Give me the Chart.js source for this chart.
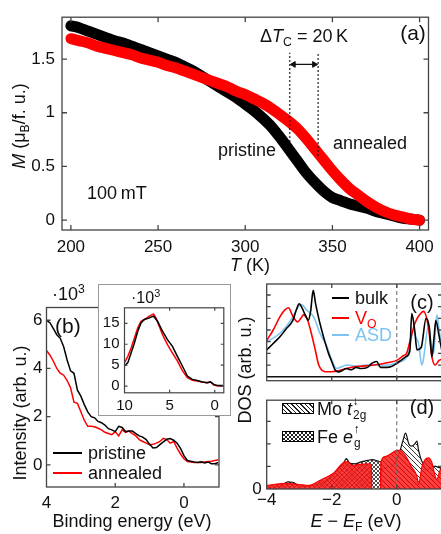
<!DOCTYPE html>
<html><head><meta charset="utf-8">
<script src="https://cdn.jsdelivr.net/npm/chart.js@4.4.1/dist/chart.umd.min.js"></script>
<style>
html,body{margin:0;padding:0;background:#fff;overflow:hidden;}
#wrap{position:relative;width:441px;height:534px;overflow:hidden;font-family:"Liberation Sans",Arial,sans-serif;color:#111;}
canvas{position:absolute;}
.t{position:absolute;white-space:nowrap;font-size:18px;line-height:1;transform:translate(0,-50%);}
.c{transform:translate(-50%,-50%);}
.r{transform:translate(-50%,-50%) rotate(-90deg);}
sub{font-size:0.68em;vertical-align:-0.3em;line-height:0;}
sup{font-size:0.68em;vertical-align:0.55em;line-height:0;}
.leg{position:absolute;height:0;border-top:2px solid #000;}
.box{position:absolute;border:1.2px solid #000;box-sizing:border-box;}
#inset{position:absolute;left:98px;top:284px;width:131px;height:130px;border:1.5px solid #999;background:#fff;}
.ss{position:relative;display:inline-block;width:1.2em;height:1em;vertical-align:top;}
.ss span{position:absolute;left:1px;font-size:0.66em;line-height:1;}
.ss .up{top:-0.35em;}
.ss .dn{top:0.85em;}
</style></head>
<body>
<div id="wrap">
  <canvas id="ca" width="441" height="275" style="left:0;top:0"></canvas>
  <canvas id="cb" width="235" height="254" style="left:0;top:280px"></canvas>
  <div id="inset"><canvas id="ci" width="131" height="130" style="left:0;top:0"></canvas></div>
  <canvas id="cc" width="215" height="105" style="left:232px;top:280px"></canvas>
  <canvas id="cd" width="215" height="149" style="left:232px;top:385px"></canvas>

  <!-- panel a texts -->
  <div class="t c" style="left:413px;top:32px;font-size:21px">(a)</div>
  <div class="t" style="left:260px;top:36px">Δ<i>T</i><sub>C</sub> = 20&#8201;K</div>
  <div class="t" style="left:218px;top:150px">pristine</div>
  <div class="t" style="left:333px;top:143px">annealed</div>
  <div class="t" style="left:87px;top:193px">100&#8201;mT</div>
  <div class="t r" style="left:19px;top:126px"><i>M</i> (μ<sub>B</sub>/f. u.)</div>
  <div class="t c" style="left:250px;top:265px"><i>T</i> (K)</div>

  <!-- panel b texts -->
  <div class="t" style="left:52px;top:294px">·10<sup>3</sup></div>
  <div class="t" style="left:55px;top:325px;font-size:21px">(b)</div>
  <div class="leg" style="left:53px;top:452px;width:29px;border-color:#000"></div>
  <div class="t" style="left:88px;top:453px">pristine</div>
  <div class="leg" style="left:53px;top:472px;width:29px;border-color:#f00"></div>
  <div class="t" style="left:88px;top:473px">annealed</div>
  <div class="t r" style="left:20px;top:413px">Intensity (arb. u.)</div>
  <div class="t c" style="left:132px;top:521px">Binding energy (eV)</div>
  <div class="t" style="left:131px;top:298px;font-size:16px">·10<sup>3</sup></div>

  <!-- panel c/d texts -->
  <div class="leg" style="left:332px;top:297px;width:17px;border-color:#000"></div>
  <div class="t" style="left:355px;top:298px">bulk</div>
  <div class="leg" style="left:332px;top:317px;width:17px;border-color:#f00"></div>
  <div class="t" style="left:355px;top:318px;color:#f00">V<sub>O</sub></div>
  <div class="leg" style="left:332px;top:334px;width:17px;border-color:#7cc4f2"></div>
  <div class="t" style="left:355px;top:335px;color:#7cc4f2">ASD</div>
  <div class="t c" style="left:422px;top:302px;font-size:20px">(c)</div>
  <div class="t c" style="left:422px;top:407px;font-size:20px">(d)</div>
  <div class="t r" style="left:245px;top:370px">DOS (arb. u.)</div>
  <div class="t c" style="left:356px;top:521px"><i>E</i> − <i>E</i><sub>F</sub> (eV)</div>
  <div class="box" style="left:282px;top:403px;width:32px;height:11px;background:repeating-linear-gradient(45deg,#fff 0 2.2px,#222 2.2px 3.2px)"></div>
  <div class="t" style="left:317px;top:409px">Mo <i>t</i><span class="ss"><span class="up">↓</span><span class="dn">2g</span></span></div>
  <div class="box" style="left:282px;top:431px;width:32px;height:11px;background:repeating-linear-gradient(45deg,transparent 0 2px,#222 2px 2.8px),repeating-linear-gradient(-45deg,transparent 0 2px,#222 2px 2.8px),#fff"></div>
  <div class="t" style="left:317px;top:437px">Fe <i>e</i><span class="ss"><span class="up">↑</span><span class="dn">g</span></span></div>
</div>
<script>
const FONT = '"Liberation Sans", Arial, sans-serif';

// ---------- panel (a): magnetization ----------
const T_K = [200,205,210,215,220,225,230,235,240,245,250,255,260,265,270,275,280,285,290,295,300,305,310,315,320,325,330,335,340,345,350,355,360,365,370,375,380,385,390,395,400];
const M_PRISTINE = [1.81,1.79,1.76,1.73,1.70,1.67,1.65,1.62,1.59,1.56,1.53,1.50,1.47,1.43,1.39,1.34,1.29,1.24,1.19,1.14,1.08,1.02,0.95,0.87,0.77,0.66,0.55,0.44,0.35,0.27,0.21,0.18,0.15,0.13,0.11,0.08,0.06,0.04,0.02,0.01,0.0];
const M_ANNEALED = [1.69,1.67,1.65,1.62,1.60,1.58,1.56,1.54,1.51,1.49,1.47,1.44,1.42,1.39,1.36,1.33,1.30,1.27,1.24,1.20,1.17,1.13,1.09,1.04,0.98,0.92,0.85,0.76,0.66,0.56,0.46,0.37,0.29,0.23,0.17,0.12,0.08,0.05,0.03,0.01,0.0];
const A_X_TICKS = [200,250,300,350,400];
const A_Y_TICKS = [0,0.5,1,1.5];
const TC_PRISTINE = 325.5, TC_ANNEALED = 341.8;
const TC_LINE_TOP = 1.56, TC_P_BOTTOM = 0.73, TC_A_BOTTOM = 0.6, TC_ARROW_Y = 1.45;

// ---------- panel (b): photoemission ----------
const B_E = [4.0,3.9,3.8,3.7,3.6,3.5,3.4,3.3,3.2,3.1,3.0,2.9,2.8,2.7,2.6,2.5,2.4,2.3,2.2,2.1,2.0,1.9,1.8,1.7,1.6,1.5,1.4,1.3,1.2,1.1,1.0,0.9,0.8,0.7,0.6,0.5,0.4,0.3,0.2,0.1,0.0,-0.1,-0.2,-0.3,-0.4,-0.5,-0.6,-0.7,-0.8,-0.9,-1.0];
const B_PRISTINE = [6.0,5.9,5.65,5.4,5.25,4.9,4.35,3.9,3.8,3.1,2.85,2.5,2.2,2.0,1.95,1.8,1.75,1.65,1.5,1.45,1.38,1.6,1.55,1.38,1.4,1.4,1.3,1.2,1.15,1.05,0.85,0.7,0.72,0.84,0.95,1.06,1.09,1.02,0.9,0.68,0.38,0.18,0.15,0.12,0.1,0.13,0.08,0.12,0.05,0.05,0.1];
const B_ANNEALED = [4.75,4.55,4.3,4.0,3.8,3.72,3.5,3.2,2.6,2.55,2.2,1.85,1.6,1.6,1.58,1.52,1.45,1.35,1.3,1.25,1.38,1.2,1.45,1.35,1.4,1.3,1.2,1.05,0.97,0.9,0.83,0.85,0.9,0.97,1.1,1.05,0.9,0.97,0.69,0.45,0.25,0.14,0.12,0.1,0.1,0.1,0.12,0.14,0.15,0.18,0.21];
const B_X_TICKS = [4,2,0];
const B_Y_TICKS = [0,2,4,6];

// inset
const I_E_PRISTINE = [10,9.63,9.27,8.9,8.53,8.17,7.8,7.25,6.78,6.34,5.79,5.24,4.69,4.14,3.59,3.04,2.49,1.94,1.39,0.84,0.48,0.11,-0.26,-0.9];
const I_PRISTINE   = [4.8,5.6,7.9,10.3,13.1,15.1,15.9,16.3,16.7,15.5,13.1,11.1,9.5,7.1,4.8,2.4,1.6,1.35,1.0,0.8,1.0,0.4,0.15,0.15];
const I_E_ANNEALED = [10,9.63,9.27,8.9,8.53,8.17,7.8,7.25,6.78,6.52,6.15,5.79,5.24,4.69,4.14,3.59,3.04,2.49,1.94,1.39,0.84,0.48,0.11,-0.4,-0.9];
const I_ANNEALED   = [5.6,7.1,9.1,11.5,13.9,15.5,15.9,16.7,17.2,16.3,14.3,12.3,9.9,7.9,6.0,3.7,2.0,1.4,1.2,1.0,0.8,1.0,0.25,0,0];
const I_X_TICKS = [10,5,0];
const I_Y_TICKS = [0,5,10,15];

// ---------- panel (c): total DOS ----------
const C_E_BULK = [-4.0,-3.8,-3.6,-3.4,-3.2,-3.08,-3.0,-2.9,-2.8,-2.72,-2.65,-2.57,-2.5,-2.4,-2.3,-2.2,-2.1,-2.0,-1.9,-1.8,-1.7,-1.55,-1.4,-1.25,-1.1,-0.9,-0.77,-0.62,-0.5,-0.3,-0.15,0.0,0.15,0.3,0.4,0.46,0.55,0.62,0.75,0.9,1.0,1.08,1.15,1.2,1.3,1.4];
const C_BULK   = [2.3,2.85,3.4,4.1,4.8,5.8,6.25,5.8,5.2,4.85,5.6,7.4,6.3,5.0,3.9,2.9,2.0,1.3,0.6,0.4,0.5,0.7,0.6,0.8,0.7,0.8,1.15,1.3,0.8,0.8,0.9,1.15,1.45,1.75,2.2,5.4,4.0,2.3,2.5,5.0,4.2,1.7,3.5,4.8,3.5,2.0];
const C_E_VO = [-4.0,-3.8,-3.6,-3.45,-3.33,-3.2,-3.05,-2.95,-2.87,-2.75,-2.6,-2.5,-2.4,-2.3,-2.2,-2.0,-1.8,-1.55,-1.3,-1.1,-0.7,-0.3,0.0,0.2,0.3,0.41,0.56,0.7,0.82,0.97,1.08,1.18,1.3,1.4];
const C_VO   = [3.1,4.0,5.1,5.7,5.9,5.2,4.7,5.0,5.3,4.9,3.4,2.2,1.0,0.55,0.43,0.43,0.5,0.7,0.85,0.9,1.0,1.2,1.4,1.8,2.0,3.1,4.6,5.3,5.6,4.3,1.7,1.0,1.4,1.5];
const C_E_ASD = [-4.0,-3.8,-3.6,-3.4,-3.2,-3.03,-2.92,-2.77,-2.56,-2.36,-2.15,-2.0,-1.85,-1.7,-1.54,-1.23,-0.92,-0.62,-0.31,0.0,0.31,0.4,0.51,0.6,0.67,0.77,0.82,0.97,1.05,1.13,1.23,1.3,1.4];
const C_ASD   = [3.0,3.3,3.7,4.3,5.1,6.0,6.15,5.7,5.15,3.7,2.6,1.45,0.7,0.85,1.0,0.9,1.0,1.0,1.0,1.2,1.7,2.5,4.0,3.3,2.86,1.0,1.5,4.3,3.0,2.0,5.3,4.0,2.5];
const CD_X_TICKS = [-4,-2,0];
const C_Y_TICKS = [1,2,3,4,5,6,7];
const REF_ENERGY = [0];

// ---------- panel (d): projected DOS ----------
const D_E_FE_BULK = [-4.0,-3.7,-3.5,-3.35,-3.2,-3.0,-2.8,-2.5,-2.2,-2.0,-1.8,-1.65,-1.55,-1.45,-1.3,-1.1,-0.9,-0.75,-0.6,-0.5,-0.47,-0.46];
const D_FE_BULK   = [0.05,0.1,0.2,0.32,0.3,0.15,0.12,0.18,0.35,0.55,0.85,1.1,1.35,1.15,1.12,1.2,1.27,1.3,1.25,1.2,1.15,0];
const D_E_FE_VO = [-4.0,-3.7,-3.4,-3.0,-2.7,-2.4,-2.2,-1.95,-1.7,-1.6,-1.5,-1.38,-1.25,-1.05,-0.85,-0.78,-0.77];
const D_FE_VO   = [0.15,0.22,0.25,0.2,0.16,0.35,0.5,0.7,1.1,1.2,1.2,1.04,1.07,1.1,1.12,1.05,0];
const D_E_MO_BULK = [-0.5,-0.49,-0.2,0.0,0.1,0.2,0.27,0.37,0.46,0.55,0.62,0.67,0.75,0.82,0.9,1.0,1.1,1.2,1.3,1.42];
const D_MO_BULK   = [0,0.8,1.0,1.3,1.7,2.2,2.48,2.0,1.9,2.0,2.12,1.71,1.3,1.1,0.8,0.9,1.0,1.0,0.95,0.9];
const D_E_MO_VO = [-0.5,-0.49,-0.36,0.0,0.1,0.25,0.46,0.62,0.67,0.77,0.87,0.97,1.08,1.18,1.23,1.33,1.42];
const D_MO_VO   = [0,1.2,1.44,1.71,1.72,1.51,0.97,0.57,0.2,0.97,1.3,1.38,1.17,0.57,0.43,0.83,0.95];
const D_Y_TICKS = [0,1,2,3];

// ---------- helpers ----------
const fmt = v => (v < 0 ? '\u2212' : '') + Math.abs(v);
const pts = (xs, ys) => xs.map((x, i) => ({x, y: ys[i]}));

function axis(o) {
  return {
    type: 'linear', min: o.min, max: o.max, reverse: !!o.reverse,
    grid: {display: false, drawTicks: false}, border: {display: false},
    ticks: {display: o.labels !== false, padding: o.pad || 4, color: '#111',
      font: {family: FONT, size: o.fs || 17}, maxRotation: 0, autoSkip: false,
      callback: o.cb || fmt},
    afterBuildTicks: s => { s.ticks = o.ticks.map(v => ({value: v})); },
    afterFit: s => { if (s.isHorizontal()) s.height = o.size; else s.width = o.size; }
  };
}

const framePlugin = {
  id: 'frame',
  afterDatasetsDraw(chart, args, opts) {
    const {ctx, chartArea: a} = chart;
    const xs = chart.scales.x, ys = chart.scales.y;
    ctx.save();
    if (opts.hline0) {
      const y = ys.getPixelForValue(0);
      ctx.strokeStyle = '#111'; ctx.lineWidth = 1.3;
      ctx.beginPath(); ctx.moveTo(a.left, y); ctx.lineTo(a.right, y); ctx.stroke();
    }
    if (opts.vlines) {
      ctx.strokeStyle = '#666'; ctx.lineWidth = 1; ctx.setLineDash([4, 3]);
      for (const v of opts.vlines) {
        const x = xs.getPixelForValue(v);
        ctx.beginPath(); ctx.moveTo(x, a.top); ctx.lineTo(x, a.bottom); ctx.stroke();
      }
      ctx.setLineDash([]);
    }
    ctx.strokeStyle = opts.color || '#444'; ctx.lineWidth = opts.width || 1.3;
    ctx.strokeRect(a.left, a.top, a.right - a.left, a.bottom - a.top);
    const L = opts.len || 4;
    ctx.beginPath();
    for (const t of xs.ticks) {
      const x = xs.getPixelForValue(t.value);
      if (x < a.left + 1 || x > a.right - 1) continue;
      ctx.moveTo(x, a.bottom); ctx.lineTo(x, a.bottom - L);
      ctx.moveTo(x, a.top); ctx.lineTo(x, a.top + L);
    }
    for (const t of ys.ticks) {
      const y = ys.getPixelForValue(t.value);
      if (y < a.top + 1 || y > a.bottom - 1) continue;
      ctx.moveTo(a.left, y); ctx.lineTo(a.left + L, y);
      ctx.moveTo(a.right, y); ctx.lineTo(a.right - L, y);
    }
    ctx.stroke();
    ctx.restore();
  }
};

function mk(id, datasets, x, y, padding, frame) {
  return new Chart(document.getElementById(id), {
    type: 'scatter',
    data: {datasets},
    options: {
      responsive: false, animation: false, events: [],
      layout: {padding},
      scales: {x, y},
      plugins: {legend: {display: false}, tooltip: {enabled: false}, frame},
      elements: {point: {radius: 0}}
    },
    plugins: [framePlugin]
  });
}

function tilePattern(ctx, bg, fg, cross, size, lw) {
  const c = document.createElement('canvas'); c.width = c.height = size;
  const g = c.getContext('2d');
  if (bg) { g.fillStyle = bg; g.fillRect(0, 0, size, size); }
  g.strokeStyle = fg; g.lineWidth = lw; g.beginPath();
  g.moveTo(-1, -1); g.lineTo(size + 1, size + 1);
  g.moveTo(-1, size - 1); g.lineTo(1, size + 1);
  g.moveTo(size - 1, -1); g.lineTo(size + 1, 1);
  if (cross) {
    g.moveTo(-1, size + 1); g.lineTo(size + 1, -1);
    g.moveTo(-1, 1); g.lineTo(1, -1);
    g.moveTo(size - 1, size + 1); g.lineTo(size + 1, size - 1);
  }
  g.stroke();
  return ctx.createPattern(c, 'repeat');
}

// ---------- chart (a) ----------
const lineA = (data, color, order) => ({data, showLine: true, borderColor: color, borderWidth: 11,
  borderCapStyle: 'round', borderJoinStyle: 'round', cubicInterpolationMode: 'monotone', pointRadius: 0, order});
mk('ca', [
  {data: [{x: TC_PRISTINE, y: TC_P_BOTTOM}, {x: TC_PRISTINE, y: TC_LINE_TOP}], showLine: true,
   borderColor: '#111', borderWidth: 1.5, borderDash: [1.5, 2.5], pointRadius: 0, order: 0},
  {data: [{x: TC_ANNEALED, y: TC_A_BOTTOM}, {x: TC_ANNEALED, y: TC_LINE_TOP}], showLine: true,
   borderColor: '#111', borderWidth: 1.5, borderDash: [1.5, 2.5], pointRadius: 0, order: 0},
  {data: [{x: TC_PRISTINE + 2.2, y: TC_ARROW_Y}, {x: TC_ANNEALED - 2.2, y: TC_ARROW_Y}], showLine: true,
   borderColor: '#111', borderWidth: 1.3, pointStyle: 'triangle', pointRadius: 3.3,
   pointRotation: [270, 90], pointBackgroundColor: '#111', pointBorderColor: '#111', pointBorderWidth: 1, order: 0},
  lineA(pts(T_K, M_ANNEALED), '#ff0000', 1),
  lineA(pts(T_K, M_PRISTINE), '#000000', 2)
],
  axis({min: 194.9, max: 405.1, ticks: A_X_TICKS, size: 45, pad: 7}),
  axis({min: -0.092, max: 1.89, ticks: A_Y_TICKS, size: 62, pad: 7}),
  {top: 14, right: 9, left: 0, bottom: 0}, {len: 5});

// ---------- chart (b) ----------
const thin = (data, color, order, w) => ({data, showLine: true, borderColor: color, borderWidth: w || 1.5,
  pointRadius: 0, tension: 0, order});
mk('cb', [
  thin(pts(B_E, B_PRISTINE), '#000', 0),
  thin(pts(B_E, B_ANNEALED), '#ff0000', 1)
],
  axis({min: -1.02, max: 4, reverse: true, ticks: B_X_TICKS, size: 47, pad: 6}),
  axis({min: -0.92, max: 6.53, ticks: B_Y_TICKS, size: 46.5, pad: 4}),
  {top: 27.5, right: 16, left: 0, bottom: 0}, {len: 4});

// ---------- inset ----------
mk('ci', [
  thin(pts(I_E_PRISTINE, I_PRISTINE), '#000', 0, 1.5),
  thin(pts(I_E_ANNEALED, I_ANNEALED), '#ff0000', 1, 1.5)
],
  axis({min: -1, max: 10, reverse: true, ticks: I_X_TICKS, size: 22.2, pad: 4, fs: 15}),
  axis({min: -1.6, max: 18.7, ticks: I_Y_TICKS, size: 25.5, pad: 5, fs: 15}),
  {top: 22.8, right: 6.2, left: 0, bottom: 0}, {len: 3, width: 1.2});

// ---------- chart (c) ----------
const lineC = (data, color, order) => ({data, showLine: true, borderColor: color, borderWidth: 1.6,
  pointRadius: 0, cubicInterpolationMode: 'monotone', order});
mk('cc', [
  lineC(pts(C_E_BULK, C_BULK), '#000', 0),
  lineC(pts(C_E_VO, C_VO), '#ff0000', 1),
  lineC(pts(C_E_ASD, C_ASD), '#7cc4f2', 2)
],
  axis({min: -4, max: 1.39, ticks: CD_X_TICKS, size: 4.3, labels: false}),
  axis({min: -0.34, max: 7.94, ticks: C_Y_TICKS, size: 34.7, labels: false}),
  {top: 4, right: 5, left: 0, bottom: 0}, {len: 4, hline0: true, vlines: REF_ENERGY});

// ---------- chart (d) ----------
const cvD = document.getElementById('cd');
const gD = cvD.getContext('2d');
const redDiag = tilePattern(gD, 'rgba(255,45,45,0.92)', 'rgba(170,0,0,0.75)', false, 5, 0.9);
const redCross = tilePattern(gD, 'rgba(255,45,45,0.92)', 'rgba(170,0,0,0.6)', true, 5, 0.8);
const blkDiag = tilePattern(gD, '#ffffff', '#222', false, 5, 0.9);
const blkCross = tilePattern(gD, '#ffffff', '#222', true, 4, 0.8);
const areaD = (data, bg, border, order) => ({data, showLine: true, fill: 'origin', backgroundColor: bg,
  borderColor: border, borderWidth: 1.2, pointRadius: 0, cubicInterpolationMode: 'monotone', order});
mk('cd', [
  areaD(pts(D_E_MO_VO, D_MO_VO), redDiag, '#ff0000', 0),
  areaD(pts(D_E_FE_VO, D_FE_VO), redCross, '#ff0000', 1),
  areaD(pts(D_E_MO_BULK, D_MO_BULK), blkDiag, '#111', 2),
  areaD(pts(D_E_FE_BULK, D_FE_BULK), blkCross, '#111', 3)
],
  axis({min: -4, max: 1.39, ticks: CD_X_TICKS, size: 45, pad: 1}),
  axis({min: 0, max: 3.94, ticks: D_Y_TICKS, size: 34.7, pad: 5, cb: v => v === 0 ? '0' : ''}),
  {top: 6.7, right: 5, left: 0, bottom: 0}, {len: 4, vlines: REF_ENERGY});
</script>
</body></html>
